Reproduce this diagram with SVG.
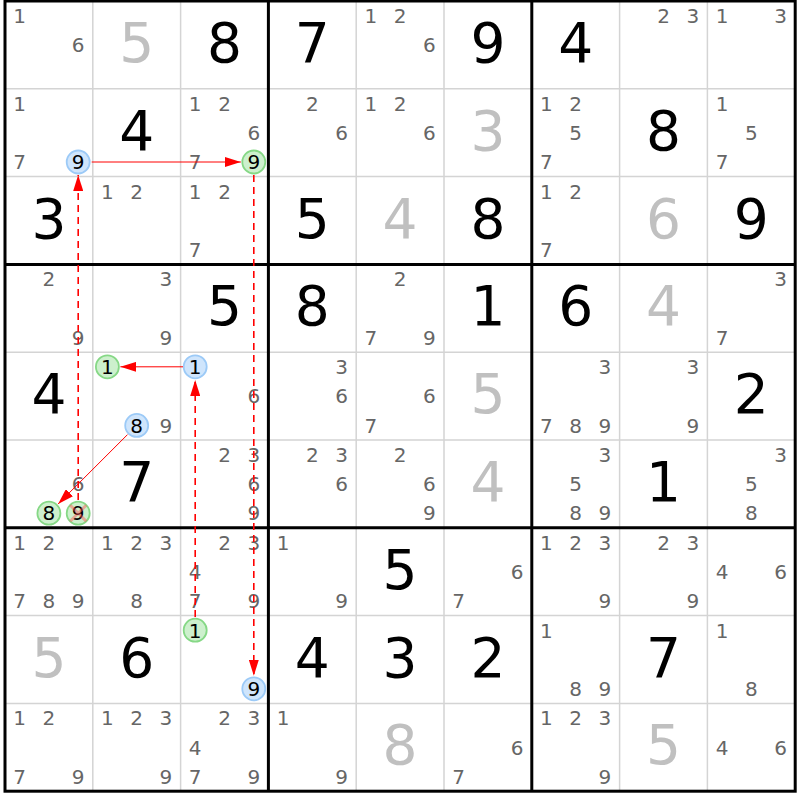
<svg xmlns="http://www.w3.org/2000/svg" width="800" height="800" viewBox="0 0 800 800">
<defs>
<style>
text{font-family:"DejaVu Sans","Liberation Sans",sans-serif;text-anchor:middle}
.c{font-size:20px;fill:#666}
.k{font-size:20px;fill:#000}
.g{font-size:55px;fill:#000}
.s{font-size:55px;fill:#c0c0c0}
.thin{stroke:#d4d4d4;stroke-width:1.5}
.thick{stroke:#000;stroke-width:3}
.bl{fill:#cfe5fc;stroke:#9ccaf7;stroke-width:1.8}
.gr{fill:#cdf0cd;stroke:#86d886;stroke-width:1.8}
.ln{stroke:#ff0000;stroke-width:1;fill:none}
.dl{stroke:#ff0000;stroke-width:1.6;stroke-dasharray:7,5;fill:none}
</style>
<marker id="ah" markerUnits="userSpaceOnUse" markerWidth="16" markerHeight="10" refX="16" refY="5" orient="auto">
<path d="M0,0 L16,5 L0,10 z" fill="#ff0000"/>
</marker>
</defs>
<rect x="0" y="0" width="800" height="800" fill="#fff"/>
<g id="grid">
<path class="thin" d="M92.8,1V791.2M180.6,1V791.2M356.2,1V791.2M444,1V791.2M619.6,1V791.2M707.4,1V791.2M5,88.8H795.2M5,176.6H795.2M5,352.2H795.2M5,440H795.2M5,615.6H795.2M5,703.4H795.2"/>
<path class="thick" d="M268.4,1V791.2M531.8,1V791.2M5,264.4H795.2M5,527.8H795.2"/>
<rect class="thick" x="5" y="1" width="790.2" height="790.2" fill="none"/>
</g>
<!-- row 1 -->
<g id="r1c1" transform="translate(48.9,44.9)"><text class="c" x="-29.3" y="-22">1</text><text class="c" x="29.3" y="7.3">6</text></g>
<g id="r1c2" transform="translate(136.7,44.9)"><text class="s" y="17">5</text></g>
<g id="r1c3" transform="translate(224.5,44.9)"><text class="g" y="17">8</text></g>
<g id="r1c4" transform="translate(312.3,44.9)"><text class="g" y="17">7</text></g>
<g id="r1c5" transform="translate(400.1,44.9)"><text class="c" x="-29.3" y="-22">1</text><text class="c" x="0" y="-22">2</text><text class="c" x="29.3" y="7.3">6</text></g>
<g id="r1c6" transform="translate(487.9,44.9)"><text class="g" y="17">9</text></g>
<g id="r1c7" transform="translate(575.7,44.9)"><text class="g" y="17">4</text></g>
<g id="r1c8" transform="translate(663.5,44.9)"><text class="c" x="0" y="-22">2</text><text class="c" x="29.3" y="-22">3</text></g>
<g id="r1c9" transform="translate(751.3,44.9)"><text class="c" x="-29.3" y="-22">1</text><text class="c" x="29.3" y="-22">3</text></g>
<!-- row 2 -->
<g id="r2c1" transform="translate(48.9,132.7)"><text class="c" x="-29.3" y="-22">1</text><text class="c" x="-29.3" y="36.6">7</text><circle class="bl" cx="29.3" cy="29.3" r="11.5"/><text class="k" x="29.3" y="36.6">9</text></g>
<g id="r2c2" transform="translate(136.7,132.7)"><text class="g" y="17">4</text></g>
<g id="r2c3" transform="translate(224.5,132.7)"><text class="c" x="-29.3" y="-22">1</text><text class="c" x="0" y="-22">2</text><text class="c" x="29.3" y="7.3">6</text><text class="c" x="-29.3" y="36.6">7</text><circle class="gr" cx="29.3" cy="29.3" r="11.5"/><text class="k" x="29.3" y="36.6">9</text></g>
<g id="r2c4" transform="translate(312.3,132.7)"><text class="c" x="0" y="-22">2</text><text class="c" x="29.3" y="7.3">6</text></g>
<g id="r2c5" transform="translate(400.1,132.7)"><text class="c" x="-29.3" y="-22">1</text><text class="c" x="0" y="-22">2</text><text class="c" x="29.3" y="7.3">6</text></g>
<g id="r2c6" transform="translate(487.9,132.7)"><text class="s" y="17">3</text></g>
<g id="r2c7" transform="translate(575.7,132.7)"><text class="c" x="-29.3" y="-22">1</text><text class="c" x="0" y="-22">2</text><text class="c" x="0" y="7.3">5</text><text class="c" x="-29.3" y="36.6">7</text></g>
<g id="r2c8" transform="translate(663.5,132.7)"><text class="g" y="17">8</text></g>
<g id="r2c9" transform="translate(751.3,132.7)"><text class="c" x="-29.3" y="-22">1</text><text class="c" x="0" y="7.3">5</text><text class="c" x="-29.3" y="36.6">7</text></g>
<!-- row 3 -->
<g id="r3c1" transform="translate(48.9,220.5)"><text class="g" y="17">3</text></g>
<g id="r3c2" transform="translate(136.7,220.5)"><text class="c" x="-29.3" y="-22">1</text><text class="c" x="0" y="-22">2</text></g>
<g id="r3c3" transform="translate(224.5,220.5)"><text class="c" x="-29.3" y="-22">1</text><text class="c" x="0" y="-22">2</text><text class="c" x="-29.3" y="36.6">7</text></g>
<g id="r3c4" transform="translate(312.3,220.5)"><text class="g" y="17">5</text></g>
<g id="r3c5" transform="translate(400.1,220.5)"><text class="s" y="17">4</text></g>
<g id="r3c6" transform="translate(487.9,220.5)"><text class="g" y="17">8</text></g>
<g id="r3c7" transform="translate(575.7,220.5)"><text class="c" x="-29.3" y="-22">1</text><text class="c" x="0" y="-22">2</text><text class="c" x="-29.3" y="36.6">7</text></g>
<g id="r3c8" transform="translate(663.5,220.5)"><text class="s" y="17">6</text></g>
<g id="r3c9" transform="translate(751.3,220.5)"><text class="g" y="17">9</text></g>
<!-- row 4 -->
<g id="r4c1" transform="translate(48.9,308.3)"><text class="c" x="0" y="-22">2</text><text class="c" x="29.3" y="36.6">9</text></g>
<g id="r4c2" transform="translate(136.7,308.3)"><text class="c" x="29.3" y="-22">3</text><text class="c" x="29.3" y="36.6">9</text></g>
<g id="r4c3" transform="translate(224.5,308.3)"><text class="g" y="17">5</text></g>
<g id="r4c4" transform="translate(312.3,308.3)"><text class="g" y="17">8</text></g>
<g id="r4c5" transform="translate(400.1,308.3)"><text class="c" x="0" y="-22">2</text><text class="c" x="-29.3" y="36.6">7</text><text class="c" x="29.3" y="36.6">9</text></g>
<g id="r4c6" transform="translate(487.9,308.3)"><text class="g" y="17">1</text></g>
<g id="r4c7" transform="translate(575.7,308.3)"><text class="g" y="17">6</text></g>
<g id="r4c8" transform="translate(663.5,308.3)"><text class="s" y="17">4</text></g>
<g id="r4c9" transform="translate(751.3,308.3)"><text class="c" x="29.3" y="-22">3</text><text class="c" x="-29.3" y="36.6">7</text></g>
<!-- row 5 -->
<g id="r5c1" transform="translate(48.9,396.1)"><text class="g" y="17">4</text></g>
<g id="r5c2" transform="translate(136.7,396.1)"><circle class="gr" cx="-29.3" cy="-29.3" r="11.5"/><text class="k" x="-29.3" y="-22">1</text><circle class="bl" cx="0" cy="29.3" r="11.5"/><text class="k" x="0" y="36.6">8</text><text class="c" x="29.3" y="36.6">9</text></g>
<g id="r5c3" transform="translate(224.5,396.1)"><circle class="bl" cx="-29.3" cy="-29.3" r="11.5"/><text class="k" x="-29.3" y="-22">1</text><text class="c" x="29.3" y="7.3">6</text></g>
<g id="r5c4" transform="translate(312.3,396.1)"><text class="c" x="29.3" y="-22">3</text><text class="c" x="29.3" y="7.3">6</text></g>
<g id="r5c5" transform="translate(400.1,396.1)"><text class="c" x="29.3" y="7.3">6</text><text class="c" x="-29.3" y="36.6">7</text></g>
<g id="r5c6" transform="translate(487.9,396.1)"><text class="s" y="17">5</text></g>
<g id="r5c7" transform="translate(575.7,396.1)"><text class="c" x="29.3" y="-22">3</text><text class="c" x="-29.3" y="36.6">7</text><text class="c" x="0" y="36.6">8</text><text class="c" x="29.3" y="36.6">9</text></g>
<g id="r5c8" transform="translate(663.5,396.1)"><text class="c" x="29.3" y="-22">3</text><text class="c" x="29.3" y="36.6">9</text></g>
<g id="r5c9" transform="translate(751.3,396.1)"><text class="g" y="17">2</text></g>
<!-- row 6 -->
<g id="r6c1" transform="translate(48.9,483.9)"><text class="c" x="29.3" y="7.3">6</text><circle class="gr" cx="0" cy="29.3" r="11.5"/><text class="k" x="0" y="36.6">8</text><circle class="gr" cx="29.3" cy="29.3" r="11.5"/><text class="k" x="29.3" y="36.6">9</text><path d="M21.3,21.3L37.3,37.3M21.3,37.3L37.3,21.3" stroke="#ff5050" stroke-opacity="0.45" stroke-width="3"/></g>
<g id="r6c2" transform="translate(136.7,483.9)"><text class="g" y="17">7</text></g>
<g id="r6c3" transform="translate(224.5,483.9)"><text class="c" x="0" y="-22">2</text><text class="c" x="29.3" y="-22">3</text><text class="c" x="29.3" y="7.3">6</text><text class="c" x="29.3" y="36.6">9</text></g>
<g id="r6c4" transform="translate(312.3,483.9)"><text class="c" x="0" y="-22">2</text><text class="c" x="29.3" y="-22">3</text><text class="c" x="29.3" y="7.3">6</text></g>
<g id="r6c5" transform="translate(400.1,483.9)"><text class="c" x="0" y="-22">2</text><text class="c" x="29.3" y="7.3">6</text><text class="c" x="29.3" y="36.6">9</text></g>
<g id="r6c6" transform="translate(487.9,483.9)"><text class="s" y="17">4</text></g>
<g id="r6c7" transform="translate(575.7,483.9)"><text class="c" x="29.3" y="-22">3</text><text class="c" x="0" y="7.3">5</text><text class="c" x="0" y="36.6">8</text><text class="c" x="29.3" y="36.6">9</text></g>
<g id="r6c8" transform="translate(663.5,483.9)"><text class="g" y="17">1</text></g>
<g id="r6c9" transform="translate(751.3,483.9)"><text class="c" x="29.3" y="-22">3</text><text class="c" x="0" y="7.3">5</text><text class="c" x="0" y="36.6">8</text></g>
<!-- row 7 -->
<g id="r7c1" transform="translate(48.9,571.7)"><text class="c" x="-29.3" y="-22">1</text><text class="c" x="0" y="-22">2</text><text class="c" x="-29.3" y="36.6">7</text><text class="c" x="0" y="36.6">8</text><text class="c" x="29.3" y="36.6">9</text></g>
<g id="r7c2" transform="translate(136.7,571.7)"><text class="c" x="-29.3" y="-22">1</text><text class="c" x="0" y="-22">2</text><text class="c" x="29.3" y="-22">3</text><text class="c" x="0" y="36.6">8</text></g>
<g id="r7c3" transform="translate(224.5,571.7)"><text class="c" x="0" y="-22">2</text><text class="c" x="29.3" y="-22">3</text><text class="c" x="-29.3" y="7.3">4</text><text class="c" x="-29.3" y="36.6">7</text><text class="c" x="29.3" y="36.6">9</text></g>
<g id="r7c4" transform="translate(312.3,571.7)"><text class="c" x="-29.3" y="-22">1</text><text class="c" x="29.3" y="36.6">9</text></g>
<g id="r7c5" transform="translate(400.1,571.7)"><text class="g" y="17">5</text></g>
<g id="r7c6" transform="translate(487.9,571.7)"><text class="c" x="29.3" y="7.3">6</text><text class="c" x="-29.3" y="36.6">7</text></g>
<g id="r7c7" transform="translate(575.7,571.7)"><text class="c" x="-29.3" y="-22">1</text><text class="c" x="0" y="-22">2</text><text class="c" x="29.3" y="-22">3</text><text class="c" x="29.3" y="36.6">9</text></g>
<g id="r7c8" transform="translate(663.5,571.7)"><text class="c" x="0" y="-22">2</text><text class="c" x="29.3" y="-22">3</text><text class="c" x="29.3" y="36.6">9</text></g>
<g id="r7c9" transform="translate(751.3,571.7)"><text class="c" x="-29.3" y="7.3">4</text><text class="c" x="29.3" y="7.3">6</text></g>
<!-- row 8 -->
<g id="r8c1" transform="translate(48.9,659.5)"><text class="s" y="17">5</text></g>
<g id="r8c2" transform="translate(136.7,659.5)"><text class="g" y="17">6</text></g>
<g id="r8c3" transform="translate(224.5,659.5)"><circle class="gr" cx="-29.3" cy="-29.3" r="11.5"/><text class="k" x="-29.3" y="-22">1</text><circle class="bl" cx="29.3" cy="29.3" r="11.5"/><text class="k" x="29.3" y="36.6">9</text></g>
<g id="r8c4" transform="translate(312.3,659.5)"><text class="g" y="17">4</text></g>
<g id="r8c5" transform="translate(400.1,659.5)"><text class="g" y="17">3</text></g>
<g id="r8c6" transform="translate(487.9,659.5)"><text class="g" y="17">2</text></g>
<g id="r8c7" transform="translate(575.7,659.5)"><text class="c" x="-29.3" y="-22">1</text><text class="c" x="0" y="36.6">8</text><text class="c" x="29.3" y="36.6">9</text></g>
<g id="r8c8" transform="translate(663.5,659.5)"><text class="g" y="17">7</text></g>
<g id="r8c9" transform="translate(751.3,659.5)"><text class="c" x="-29.3" y="-22">1</text><text class="c" x="0" y="36.6">8</text></g>
<!-- row 9 -->
<g id="r9c1" transform="translate(48.9,747.3)"><text class="c" x="-29.3" y="-22">1</text><text class="c" x="0" y="-22">2</text><text class="c" x="-29.3" y="36.6">7</text><text class="c" x="29.3" y="36.6">9</text></g>
<g id="r9c2" transform="translate(136.7,747.3)"><text class="c" x="-29.3" y="-22">1</text><text class="c" x="0" y="-22">2</text><text class="c" x="29.3" y="-22">3</text><text class="c" x="29.3" y="36.6">9</text></g>
<g id="r9c3" transform="translate(224.5,747.3)"><text class="c" x="0" y="-22">2</text><text class="c" x="29.3" y="-22">3</text><text class="c" x="-29.3" y="7.3">4</text><text class="c" x="-29.3" y="36.6">7</text><text class="c" x="29.3" y="36.6">9</text></g>
<g id="r9c4" transform="translate(312.3,747.3)"><text class="c" x="-29.3" y="-22">1</text><text class="c" x="29.3" y="36.6">9</text></g>
<g id="r9c5" transform="translate(400.1,747.3)"><text class="s" y="17">8</text></g>
<g id="r9c6" transform="translate(487.9,747.3)"><text class="c" x="29.3" y="7.3">6</text><text class="c" x="-29.3" y="36.6">7</text></g>
<g id="r9c7" transform="translate(575.7,747.3)"><text class="c" x="-29.3" y="-22">1</text><text class="c" x="0" y="-22">2</text><text class="c" x="29.3" y="-22">3</text><text class="c" x="29.3" y="36.6">9</text></g>
<g id="r9c8" transform="translate(663.5,747.3)"><text class="s" y="17">5</text></g>
<g id="r9c9" transform="translate(751.3,747.3)"><text class="c" x="-29.3" y="7.3">4</text><text class="c" x="29.3" y="7.3">6</text></g>
<g id="connectors">
<line class="ln" x1="91.7" y1="162" x2="240.8" y2="162" marker-end="url(#ah)"/>
<line class="dl" x1="78.2" y1="500" x2="78.2" y2="175" marker-end="url(#ah)"/>
<line class="dl" x1="253.8" y1="175" x2="253.8" y2="675.8" marker-end="url(#ah)"/>
<line class="dl" x1="195.2" y1="617" x2="195.2" y2="380" marker-end="url(#ah)"/>
<line class="ln" x1="183" y1="366.8" x2="120.4" y2="366.8" marker-end="url(#ah)"/>
<line class="ln" x1="127.5" y1="434.6" x2="58.1" y2="504" marker-end="url(#ah)"/>
</g>
</svg>
